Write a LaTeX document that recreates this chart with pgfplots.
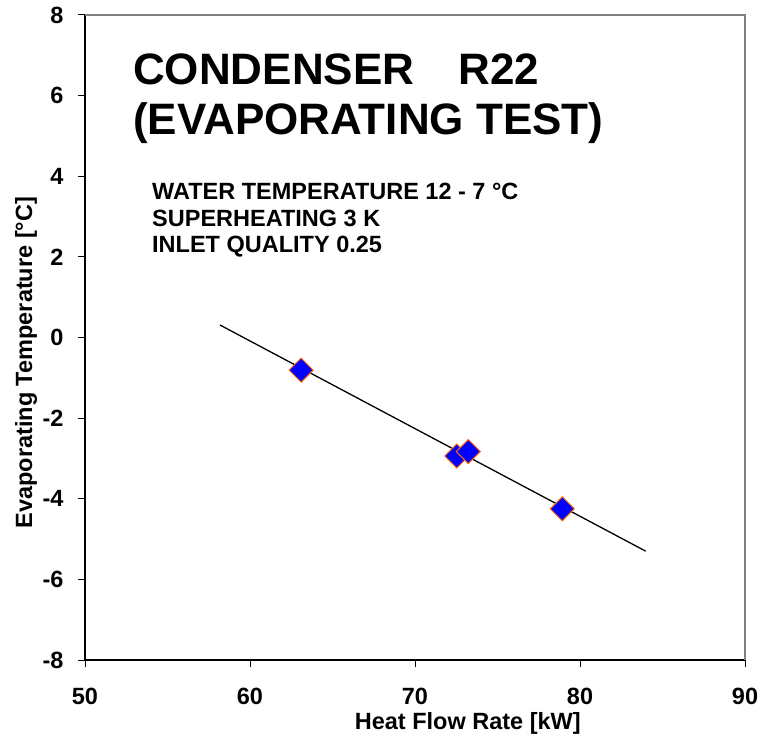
\documentclass[border=0pt]{standalone}
\usepackage{pgfplots}
\pgfplotsset{compat=1.18}
\usepackage{fontspec}
\setmainfont{Liberation Sans}
\definecolor{mkorange}{RGB}{255,102,0}
\definecolor{frame}{RGB}{128,128,128}
\begin{document}
\begin{tikzpicture}[x=1pt,y=1pt]
\useasboundingbox (0,0) rectangle (763,737);
\begin{axis}[
  at={(85pt,77pt)}, anchor=south west,
  scale only axis, width=660pt, height=645pt,
  xmin=50, xmax=90, ymin=-8, ymax=8,
  xtick={50,60,70,80,90}, ytick={-8,-6,...,8},
  axis x line*=bottom, axis y line*=left,
  axis line style={-, line width=1.3pt, black},
  tick align=outside, major tick length=7pt,
  tick style={black, line width=1pt},
  /pgf/number format/assume math mode=true,
  ticklabel style={font=\fontsize{23.5}{28}\selectfont\bfseries},
  yticklabel style={xshift=-11pt},
  xticklabel style={yshift=-18pt},
  xlabel={Heat Flow Rate [kW]},
  ylabel={Evaporating Temperature [°C]},
  label style={font=\fontsize{23.5}{28}\selectfont\bfseries},
  xlabel style={at={(axis description cs:0.58,0)}, anchor=base, yshift=-69pt},
  ylabel style={at={(axis description cs:-0.0894,0.461)}, anchor=center},
  clip=false,
]
\draw[frame, line width=1.5pt] (rel axis cs:0,1) -- (rel axis cs:1,1) -- (rel axis cs:1,0);
\addplot[only marks, mark=square*, mark size=8.5pt,
  mark options={rotate=45, fill=blue, draw=mkorange, line width=1pt}]
  coordinates {(63.1,-0.81) (72.53,-2.94) (73.23,-2.83) (78.93,-4.25)};
\addplot[black, line width=1.3pt, no marks]
  coordinates {(58.18,0.31) (83.98,-5.30)};
\end{axis}
\node[anchor=base west, inner sep=0, font=\fontsize{44}{52}\selectfont\bfseries] at (133,652) {CONDENSER\hspace{1em}R22};
\node[anchor=base west, inner sep=0, font=\fontsize{44}{52}\selectfont\bfseries] at (133,602) {(EVAPORATING TEST)};
\node[anchor=base west, inner sep=0, font=\fontsize{23.5}{28}\selectfont\bfseries] at (152,537) {WATER TEMPERATURE 12 - 7 °C};
\node[anchor=base west, inner sep=0, font=\fontsize{23.5}{28}\selectfont\bfseries] at (152,510) {SUPERHEATING 3 K};
\node[anchor=base west, inner sep=0, font=\fontsize{23.5}{28}\selectfont\bfseries] at (152,484) {INLET QUALITY 0.25};
\end{tikzpicture}
\end{document}
